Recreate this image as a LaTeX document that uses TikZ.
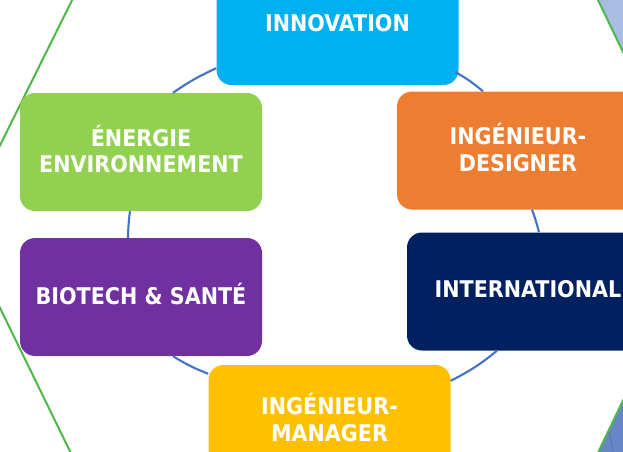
\documentclass[tikz,border=0pt]{standalone}
\usepackage{fontspec}
\newfontfamily\labfont{DejaVu Sans Condensed}
\usetikzlibrary{calc}
\definecolor{cInnov}{HTML}{00B0F0}
\definecolor{cEnergie}{HTML}{92D050}
\definecolor{cDesign}{HTML}{ED7D31}
\definecolor{cInter}{HTML}{002060}
\definecolor{cBio}{HTML}{7030A0}
\definecolor{cManag}{HTML}{FFC000}
\definecolor{cRing}{HTML}{4472C4}
\definecolor{cHex}{HTML}{4DB84A}
\definecolor{cSkyA}{HTML}{A9BCE2}
\definecolor{cSkyB}{HTML}{6686C6}
\definecolor{cSkyLine}{HTML}{4F6FB2}
\begin{document}
\begin{tikzpicture}[x=1pt,y=-1pt,
  box/.style={rectangle, rounded corners=15pt, minimum width=242pt, minimum height=118pt,
    inner sep=0pt, text=white, align=center, text depth=6pt,
    font=\labfont\bfseries\fontsize{23}{26.5}\selectfont},
  ring/.style={draw=cRing, line width=2.1pt},
  hex/.style={draw=cHex, line width=2pt}]
\useasboundingbox (0,0) rectangle (623,451);
\clip (0,0) rectangle (623,451);
\fill[white] (0,0) rectangle (623,451);
% hexagon corners
\coordinate (hL) at (-40,226);
\coordinate (hUL) at (87,-30);
\coordinate (hUR) at (583.6,-30);
\coordinate (hR) at (706.5,226);
\coordinate (hLR) at (584,482);
\coordinate (hLL) at (85,482);
\fill[cSkyA] (hUR) -- (hR) -- (760,226) -- (760,-40) -- (583.6,-40) -- cycle;
\fill[cSkyB] (hR) -- (hLR) -- (760,490) -- (760,226) -- cycle;
\coordinate (s1) at (609,430);
\coordinate (s2) at (613,451);
\draw[cSkyLine, line width=0.7pt] (s1) -- (s2);
\draw[hex] (hL) -- (hUL) -- (hUR) -- (hR) -- (hLR) -- (hLL) -- cycle;
% boxes
\node[box, fill=cInnov]   (innov)    at (337.5,26)  {INNOVATION};
\node[box, fill=cEnergie] (energie)  at (141,152)   {ÉNERGIE\\ENVIRONNEMENT};
\node[box, fill=cDesign]  (designer) at (518,150.5) {INGÉNIEUR-\\DESIGNER};
\node[box, fill=cInter]   (inter)    at (528,291.5) {INTERNATIONAL};
\node[box, fill=cBio]     (bio)      at (141,297)   {BIOTECH \& SANTÉ};
\node[box, fill=cManag, text depth=13pt] (manager) at (329.5,424) {INGÉNIEUR-\\MANAGER};
% ring connectors
\draw[ring] ($(innov.south east)+(-3,-13)$) to[bend left=5] ($(designer.north)+(-35,0)$);
\draw[ring] ($(designer.south)+(14,0)$) to[bend left=3] ($(inter.north)+(11,0)$);
\draw[ring] ($(inter.south)+(-31,0)$) to[bend left=6] ($(manager.north east)+(0,16)$);
\draw[ring] ($(manager.north west)+(0,9)$) to[bend left=5] ($(bio.south)+(32,0)$);
\draw[ring] ($(bio.north)+(-13,0)$) to[bend left=3] ($(energie.south)+(-11,0)$);
\draw[ring] ($(energie.north)+(32,0)$) to[bend left=5] ($(innov.south west)+(0,-17)$);
\end{tikzpicture}
\end{document}
